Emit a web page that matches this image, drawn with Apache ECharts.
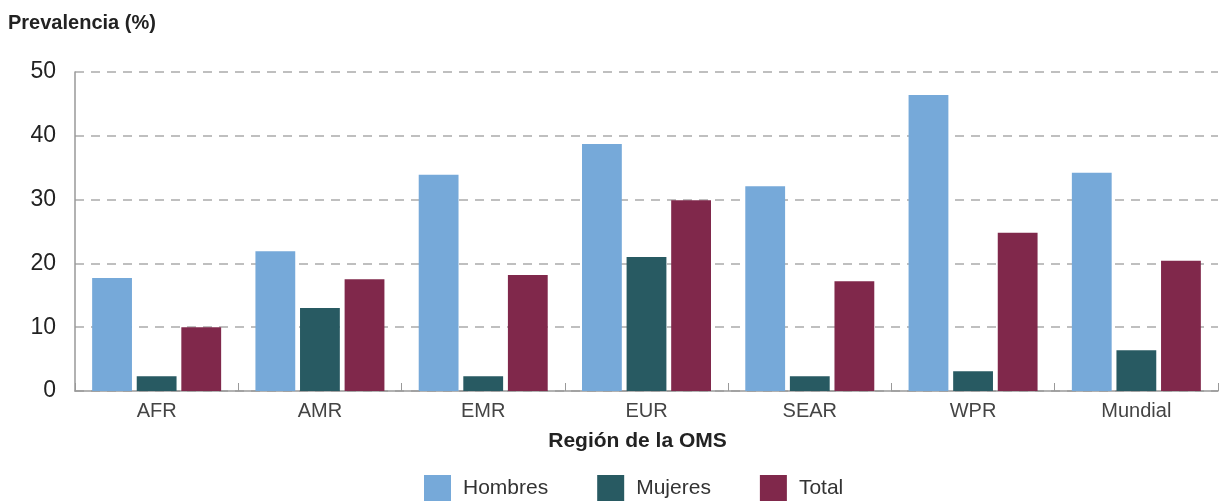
<!DOCTYPE html>
<html>
<head>
<meta charset="utf-8">
<script src="https://cdn.jsdelivr.net/npm/echarts@6/dist/echarts.min.js"></script>
<style>html,body{margin:0;padding:0;background:#fff}#c{width:1227px;height:501px}</style>
</head>
<body>
<div id="c"></div>
<script>
const categories = ['AFR', 'AMR', 'EMR', 'EUR', 'SEAR', 'WPR', 'Mundial'];
const hombres = [17.7, 21.9, 33.9, 38.7, 32.1, 46.4, 34.2];
const mujeres = [2.3, 13.0, 2.3, 21.0, 2.3, 3.1, 6.4];
const total = [10.0, 17.5, 18.2, 29.9, 17.2, 24.8, 20.4];
const seriesNames = ['Hombres', 'Mujeres', 'Total'];
const yTicks = [0, 10, 20, 30, 40, 50];

const colors = ['#76A9D9', '#285A62', '#80284B'];
const font = '"Liberation Sans", Arial, sans-serif';
const chart = echarts.init(document.getElementById('c'), null, {renderer: 'canvas'});
chart.setOption({
  animation: false,
  color: colors,
  textStyle: {fontFamily: font},
  title: {
    text: 'Prevalencia (%)', left: 3, top: 8,
    textStyle: {fontFamily: font, fontSize: 20, fontWeight: 'bold', color: '#222'}
  },
  legend: {
    data: seriesNames, top: 475, left: 424, itemWidth: 27, itemHeight: 26, itemGap: 49,
    padding: 0,
    icon: 'rect',
    textStyle: {fontFamily: font, fontSize: 21, color: '#333', padding: [0, 0, 0, 7]}
  },
  grid: {left: 75, right: 9, top: 72, bottom: 110, containLabel: false},
  xAxis: {
    type: 'category', data: categories,
    name: 'Región de la OMS', nameLocation: 'middle', nameGap: 40,
    nameTextStyle: {fontFamily: font, fontSize: 21, fontWeight: 'bold', color: '#222', padding: [0, 18, 0, 0]},
    axisLine: {lineStyle: {color: '#999', width: 1.5}},
    axisTick: {show: true, inside: true, length: 8, lineStyle: {color: '#999'}},
    axisLabel: {fontFamily: font, fontSize: 20, color: '#444', margin: 10}
  },
  yAxis: {
    type: 'value', min: yTicks[0], max: yTicks[yTicks.length - 1], interval: 10,
    axisLine: {show: true, lineStyle: {color: '#999', width: 1.5}},
    axisTick: {show: false},
    axisLabel: {fontFamily: font, fontSize: 23, color: '#222', margin: 19},
    splitLine: {show: true, lineStyle: {color: '#aaa', type: [9, 7], width: 1.5}}
  },
  series: [
    {name: seriesNames[0], type: 'bar', data: hombres, barGap: '12%', barCategoryGap: '21%'},
    {name: seriesNames[1], type: 'bar', data: mujeres, barGap: '12%', barCategoryGap: '21%'},
    {name: seriesNames[2], type: 'bar', data: total, barGap: '12%', barCategoryGap: '21%'}
  ]
});
</script>
</body>
</html>
